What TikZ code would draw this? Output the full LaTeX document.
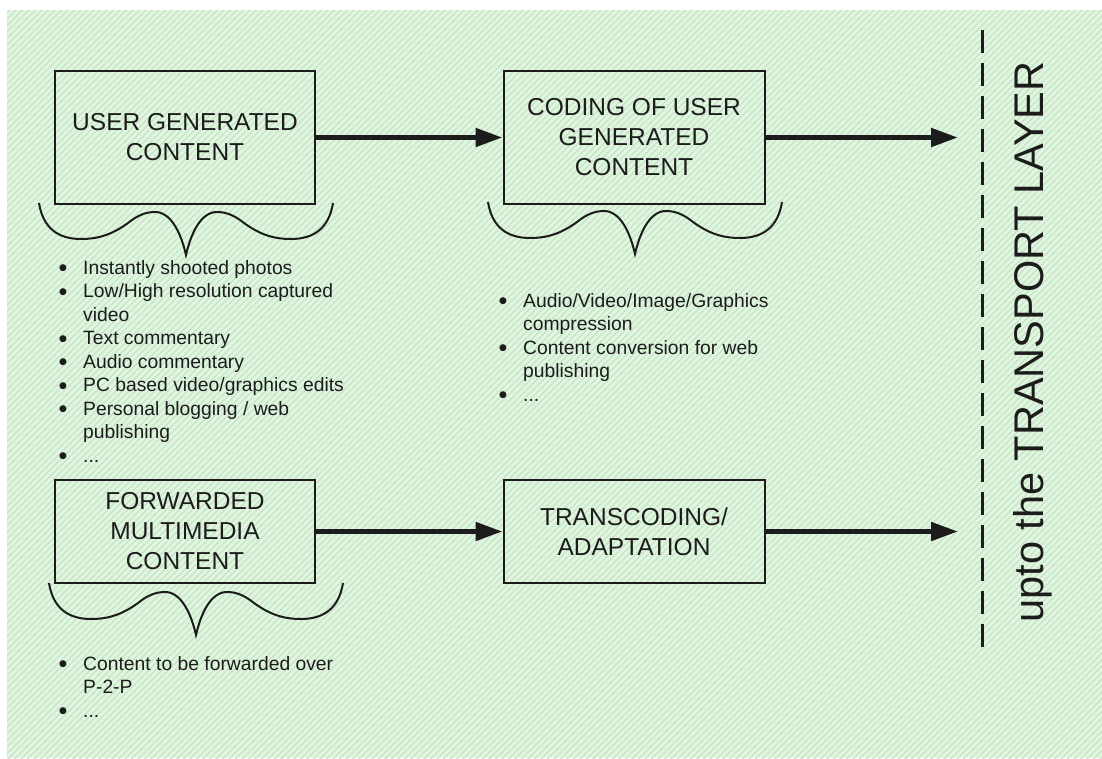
\documentclass[tikz,border=0pt]{standalone}
\usepackage{fontspec}
\setmainfont{Liberation Sans}
\newfontfamily\dotfont{DejaVu Sans}
\usetikzlibrary{arrows.meta}

\definecolor{paneGreen}{RGB}{218,251,218}
\definecolor{hatchGrey}{RGB}{214,216,212}
\definecolor{ink}{RGB}{28,28,28}

% bullet with a fixed-width slot so wrapped lines line up
\newcommand\bul{\makebox[24pt][l]{\raisebox{3.2pt}{\dotfont\fontsize{9}{9}\selectfont ●}}}

\tikzset{
  stage/.style={draw=ink, line width=2pt, inner sep=0pt, align=center,
                text=ink, font=\fontsize{24.5}{30}\selectfont},
  flow/.style={ink, line width=5pt, -{Triangle[length=27pt,width=18pt]}},
  hatch/.style={hatchGrey, line width=1.3pt},
  bracket/.style={ink, line width=2pt},
  itemlist/.style={inner sep=0pt, anchor=base west, text=ink,
                   font=\fontsize{19.3}{23.5}\selectfont},
  curlybrace/.pic={
    \draw[bracket] (-147,0)
      .. controls (-143,25) and (-128,36) .. (-105,36)
      .. controls (-85,36) and (-72,30) .. (-58,20)
      .. controls (-48,12) and (-40,9) .. (-31,9)
      .. controls (-15,9) and (-5,30) .. (0,52)
      .. controls (5,30) and (15,9) .. (31,9)
      .. controls (40,9) and (48,12) .. (58,20)
      .. controls (72,30) and (85,36) .. (105,36)
      .. controls (128,36) and (143,25) .. (147,0);
  }
}

\begin{document}
\begin{tikzpicture}[x=1pt,y=-1pt]
\useasboundingbox (0,0) rectangle (1102,758);

% hatched green pane
\fill[paneGreen] (7,10) rectangle (1102,758);
\begin{scope}
  \clip (7,10) rectangle (1102,758);
  \foreach \i in {0,...,290} {
    \draw[hatch] (\i*6.5-760,760) -- ++(762,-762);
  }
\end{scope}

% processing stages
\node[stage, minimum width=260pt, minimum height=133pt] (ugc) at (185,137.5)
  {USER GENERATED\\CONTENT};
\node[stage, minimum width=261pt, minimum height=133pt] (cod) at (634,137.5)
  {CODING OF USER\\GENERATED\\CONTENT};
\node[stage, minimum width=260pt, minimum height=103pt] (fwd) at (185,531.5)
  {FORWARDED\\MULTIMEDIA\\CONTENT};
\node[stage, minimum width=261pt, minimum height=103pt] (trc) at (634,531.5)
  {TRANSCODING/\\ADAPTATION};

% outputs towards the transport layer
\coordinate (out1) at (958,137.5);
\coordinate (out2) at (958,531.5);
\draw[flow] (ugc.east) -- (cod.west);
\draw[flow] (cod.east) -- (out1);
\draw[flow] (fwd.east) -- (trc.west);
\draw[flow] (trc.east) -- (out2);

% layer boundary
\coordinate (lt) at (982,30);
\coordinate (lb) at (982,655);
\draw[ink, line width=3pt, dash pattern=on 23pt off 10pt] (lt) -- (lb);
\node[rotate=90, anchor=base, inner sep=0pt, text=ink,
      font=\fontsize{41.5}{41.5}\selectfont] (layer) at (1043,342)
  {upto the TRANSPORT LAYER};

% braces under the stages
\pic at (186,203) {curlybrace};
\pic at (635,202) {curlybrace};
\pic at (196,583) {curlybrace};

% item lists
\node[itemlist] (ugcitems) at (59,274) {\begin{tabular}[t]{@{}l@{}l@{}}
  \bul & Instantly shooted photos\\
  \bul & Low/High resolution captured\\
       & video\\
  \bul & Text commentary\\
  \bul & Audio commentary\\
  \bul & PC based video/graphics edits\\
  \bul & Personal blogging / web\\
       & publishing\\
  \bul & ...
\end{tabular}};

\node[itemlist] (coditems) at (499,307) {\begin{tabular}[t]{@{}l@{}l@{}}
  \bul & Audio/Video/Image/Graphics\\
       & compression\\
  \bul & Content conversion for web\\
       & publishing\\
  \bul & ...
\end{tabular}};

\node[itemlist] (fwditems) at (59,670) {\begin{tabular}[t]{@{}l@{}l@{}}
  \bul & Content to be forwarded over\\
       & P-2-P\\
  \bul & ...
\end{tabular}};
\end{tikzpicture}
\end{document}
